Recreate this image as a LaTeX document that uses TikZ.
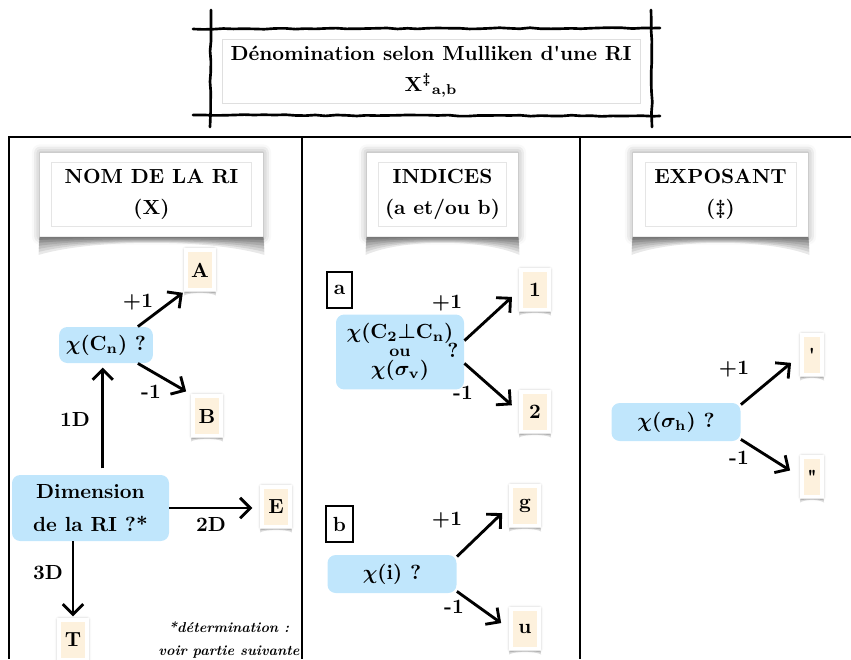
\documentclass[tikz,border=0pt]{standalone}
\usepackage{amsmath}
\usetikzlibrary{positioning}
\usetikzlibrary{arrows.meta}
\usetikzlibrary{shadows.blur}
\usetikzlibrary{decorations.pathmorphing}
\definecolor{skyblue}{RGB}{192,230,252}
\definecolor{cream}{RGB}{253,241,221}
\def\px{0.0172cm}
\tikzset{
    frame/.style = {line width=1pt,draw=black},
    sketch/.style = {line width=1.3pt,line cap=round,decorate,decoration={random steps,segment length=5pt,amplitude=0.3pt}},
    titlebox/.style = {rectangle,draw=gray!25,thin,align=center,minimum width=418*\px,minimum height=60*\px},
    headout/.style = {rectangle,fill=white,minimum height=84*\px,blur shadow={shadow xshift=0pt,shadow yshift=0pt,shadow blur radius=4pt}},
    headin/.style = {rectangle,draw=gray!20,thin,align=center,minimum height=61*\px},
    curl/.style = {fill=black,fill opacity=0.09},
    question/.style = {rectangle,rounded corners=4pt,fill=skyblue,align=center},
    letter/.style = {rectangle,fill=cream,draw=white,line width=1.5pt,inner sep=2pt,minimum width=28*\px,minimum height=40*\px,blur shadow={shadow xshift=0pt,shadow yshift=0pt,shadow blur radius=2pt}},
    tag/.style = {rectangle,draw=black,line width=0.8pt,minimum width=23*\px,minimum height=36*\px},
    arr/.style = {-{Straight Barb[length=5pt,width=10pt]},line width=1.4pt},
    lbl/.style = {inner sep=1pt},
}

\begin{document}
\begin{tikzpicture}[x=\px,y=-\px,font=\bfseries\boldmath]
\useasboundingbox (0,0) rectangle (851,659);
%
% titre
\draw[sketch] (193,29) -- (660,28);
\draw[sketch] (193,115) -- (660,116);
\draw[sketch] (211,10) -- (210,127);
\draw[sketch] (651,10) -- (652,127);
\node[titlebox] (title) at (431,71.5) {D\'enomination selon Mulliken d\textquotesingle une RI\\[3pt]$\mathbf{X}^{\ddagger}{}_{\mathbf{a,b}}$};
%
% cadre
\draw[frame] (851,137) -- (9,137) -- (9,659);
\draw[frame] (302,137) -- (302,659);
\draw[frame] (580,137) -- (580,659);
%
% entetes
\node[headout,minimum width=223*\px] (nomo) at (151.5,194.5) {};
\node[headin,minimum width=200*\px] (nom) at (nomo) {NOM DE LA RI\\[3.5pt](X)};
\node[headout,minimum width=151*\px] (indo) at (442.5,194.5) {};
\node[headin,minimum width=128*\px] (ind) at (indo) {INDICES\\[3.5pt](a et/ou b)};
\node[headout,minimum width=175*\px] (expo) at (720.5,194.5) {};
\node[headin,minimum width=151*\px] (exp) at (expo) {EXPOSANT\\[3.5pt](\ddag)};
\foreach \h/\w in {nomo/55,indo/37,expo/43}
  \foreach \d in {3,6,9,12,15,18}
    \fill[curl] (\h.south west) -- ++(-1,\d) .. controls +(\w,-0.9*\d) and +(-\w,-0.9*\d) .. ([shift={(1,\d)}]\h.south east) -- (\h.south east) -- cycle;
%
% nom de la RI
\node[letter] (A) at (200,270) {A};
\node[question,minimum width=91*\px,minimum height=36*\px] (cn) at (106,345) {$\chi(\mathbf{C_n})$ ?};
\node[letter] (B) at (207,416) {B};
\node[question,minimum width=157*\px,minimum height=66*\px] (dim) at (90.5,508) {Dimension\\[4pt]de la RI ?*};
\node[letter] (E) at (276,507) {E};
\node[letter] (T) at (73,640) {T};
\node[font=\scriptsize\bfseries\itshape,align=center] (note) at (229,640) {*d\'etermination :\\[3pt]voir partie suivante};
\node[lbl] (pA) at (138,302) {$+$1};
\node[lbl] (mB) at (151,392) {-1};
\node[lbl] (d1) at (75,419) {1D};
\node[lbl] (d2) at (211,524) {2D};
\node[lbl] (d3) at (48,573) {3D};
\draw[arr,shorten >=1pt] (cn.30) -- (A.south west);
\draw[arr,shorten >=3pt] (cn.-30) -- (B.north west);
\draw[arr,shorten <=3pt,shorten >=2pt] (dim.north -| cn.-100) -- (cn.-100);
\draw[arr,shorten >=4pt] (dim.east) -- (dim.east -| E.west);
\draw[arr,shorten >=1pt] (dim.south -| T.north) -- (T.north);
%
% indices
\node[tag] (ta) at (339.5,290) {a};
\node[question,minimum width=128*\px,minimum height=70*\px] (ia) at (400,352) {\begin{tabular}{@{}c@{}}$\chi(\mathbf{C_2{\perp}C_n})$\\[-3pt]{\footnotesize ou}\\[-3pt]$\chi(\sigma_{\mathbf{v}})$\end{tabular}\rlap{\kern-3pt ?}};
\node[letter] (one) at (535,290) {1};
\node[letter] (two) at (535,412) {2};
\node[lbl] (pa1) at (447,303) {$+$1};
\node[lbl] (ma2) at (463,393) {-1};
\draw[arr,shorten >=5pt] (ia.10) -- (one.west);
\draw[arr,shorten >=5pt] (ia.-10) -- (two.west);
%
\node[tag,minimum width=25*\px] (tb) at (339.5,524) {b};
\node[question,minimum width=129*\px,minimum height=38*\px] (ib) at (392,574) {$\chi(\mathbf{i})$ ?};
\node[letter] (g) at (525,506) {g};
\node[letter] (u) at (525,629) {u};
\node[lbl] (pg) at (447,520) {$+$1};
\node[lbl] (mu) at (454,607) {-1};
\draw[arr,shorten >=5pt] (ib.15) -- (g.west);
\draw[arr,shorten >=5pt] (ib.-15) -- (u.west);
%
% exposant
\node[question,minimum width=129*\px,minimum height=38*\px] (sh) at (676,422) {$\chi(\sigma_{\mathbf{h}})$ ?};
\node[letter,minimum width=20*\px] (p1) at (812,355) {\textquotesingle};
\node[letter,minimum width=20*\px] (p2) at (812,477) {\textquotedbl};
\node[lbl] (pp) at (734,369) {$+$1};
\node[lbl] (mp) at (739,458) {-1};
\draw[arr,shorten >=6pt] (sh.15) -- (p1.west);
\draw[arr,shorten >=6pt] (sh.-15) -- (p2.west);
%
% ombres des lettres
\foreach \h in {A,B,E,T,one,two,g,u,p1,p2}
  \foreach \d in {2,4}
    \fill[curl,fill opacity=0.13] (\h.south west) -- ++(-0.5,\d) .. controls +(6,-0.9*\d) and +(-6,-0.9*\d) .. ([shift={(0.5,\d)}]\h.south east) -- (\h.south east) -- cycle;

\end{tikzpicture}
\end{document}
